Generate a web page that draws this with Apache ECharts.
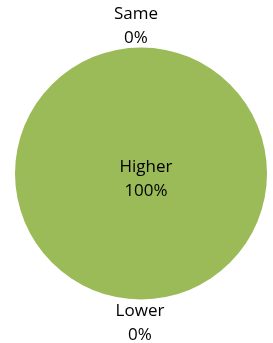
<!DOCTYPE html>
<html>
<head>
<meta charset="utf-8">
<style>
  html, body { margin: 0; padding: 0; background: #fff; }
  #chart { width: 273px; height: 343px; }
</style>
<script src="https://cdn.jsdelivr.net/npm/echarts@6/dist/echarts.min.js"></script>
</head>
<body>
<div id="chart"></div>
<script>
// slice names and values (percent of total)
var names = ['Same', 'Higher', 'Lower'];
var values = [0, 100, 0];

var GREEN = '#9BBB59';
var labelFont = { fontFamily: 'Open Sans', fontSize: 17, lineHeight: 24, color: '#000' };

var myChart = echarts.init(document.getElementById('chart'));

// main pie: Same sits at 12 o'clock, Higher fills the circle
var mainData = [
    { name: names[0], value: values[0] },
    { name: names[1], value: values[1], label: { position: 'center', offset: [5, 6] } }
];
// helper pie starting at 6 o'clock so the zero "Lower" label lands at the bottom
var lowerData = [
    { name: names[2], value: values[2] },
    { name: '', value: values[1], itemStyle: { color: 'transparent' }, label: { show: false } }
];

var baseSeries = {
    type: 'pie',
    center: [141, 173.5],
    radius: 126,
    clockwise: true,
    avoidLabelOverlap: false,
    silent: true,
    emphasis: { disabled: true },
    labelLine: { show: false, length: 0, length2: 0 },
    label: Object.assign({
        show: true,
        position: 'outside',
        distanceToLabelLine: 0,
        formatter: '{b}\n{d}%'
    }, labelFont)
};

myChart.setOption({
    animation: false,
    series: [
        Object.assign({}, baseSeries, {
            startAngle: 90,
            itemStyle: { color: GREEN },
            data: mainData,
            labelLayout: function (p) {
                if (p.dataIndex === 0) return { align: 'center', verticalAlign: 'bottom', dx: -5, dy: 3 };
            }
        }),
        Object.assign({}, baseSeries, {
            startAngle: 270,
            z: 3,
            itemStyle: { color: 'transparent' },
            data: lowerData,
            labelLayout: function (p) {
                if (p.dataIndex === 0) return { align: 'center', verticalAlign: 'top', dx: -1, dy: 0 };
            }
        })
    ]
});
</script>
</body>
</html>
